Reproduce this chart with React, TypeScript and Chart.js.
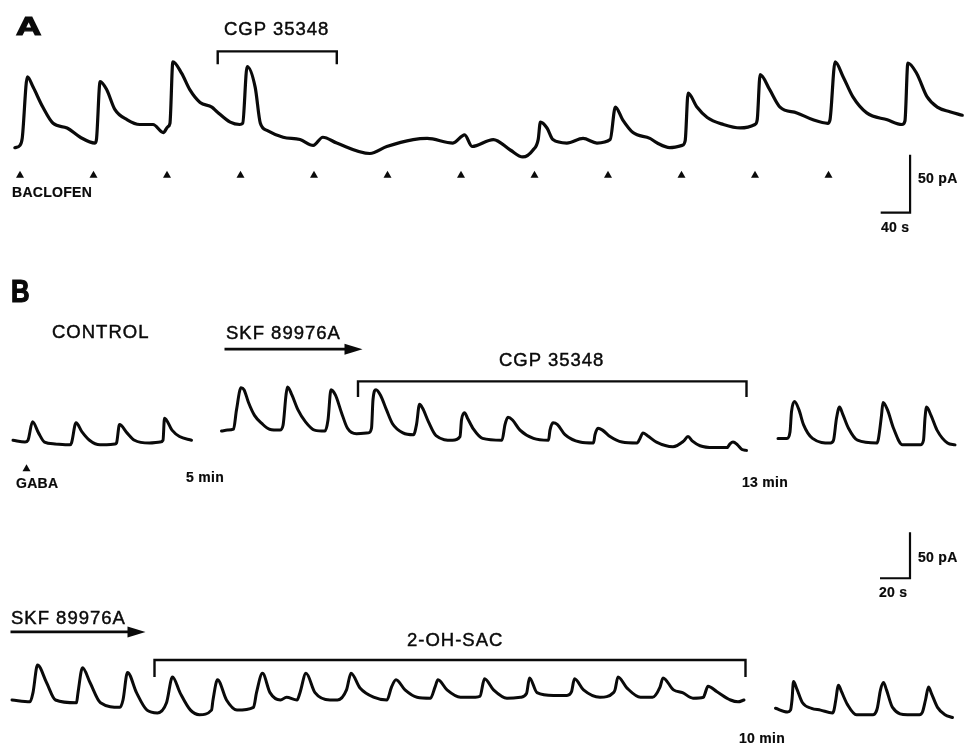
import React, { useEffect, useRef } from "react";
import { Chart, registerables } from "chart.js";

Chart.register(...registerables);

// ---------- DATA (time in s, current in pA) ----------
// Panel A: baclofen-evoked currents, CGP 35348 washed in and out
const traceA: [number, number][] = [
  [-7, 2], [0, 4], [3, 10], [10, 63], [18, 54], [31, 37], [45, 23], [64, 19], [82, 11], [102, 6],
  [104, 9], [109, 59], [118, 52], [129, 35], [146, 26], [163, 22], [181, 22], [195, 15], [201, 20],
  [204, 23], [208, 76], [220, 66], [231, 52], [245, 41], [261, 37], [268, 33], [286, 24], [299, 22],
  [303, 23], [309, 72], [320, 54], [327, 23], [336, 17], [358, 11], [381, 9], [399, 4], [412, 11],
  [431, 6], [476, -3], [499, 3], [535, 9], [554, 10], [589, 6], [605, 13], [615, 3], [644, 9],
  [667, 0], [684, -6], [698, 0], [705, 9], [708, 24], [717, 19], [725, 9], [744, 6], [766, 10],
  [785, 6], [803, 9], [810, 37], [820, 26], [834, 15], [857, 10], [867, 6], [884, 2], [901, 4],
  [905, 8], [909, 49], [921, 37], [935, 28], [957, 22], [980, 19], [1000, 22], [1003, 26],
  [1007, 65], [1020, 52], [1034, 37], [1057, 32], [1079, 26], [1099, 23], [1102, 26], [1109, 76],
  [1120, 63], [1133, 46], [1152, 32], [1180, 26], [1200, 22], [1204, 25], [1208, 75], [1220, 66],
  [1234, 46], [1248, 37], [1265, 33], [1282, 30],
];
const baclofenTimes = [0, 100, 200, 300, 400, 500, 600, 700, 800, 900, 1000, 1100];
const baclofenMarkLevel = -21;
const cgpSpanA = [269, 431];
const cgpLevelsA = [85, 74]; // bar, tick end
const scaleBarA = { time: [1171, 1211], current: [-54, -4] };

// Panel B, row 1: GABA responses, control / SKF 89976A + CGP 35348 / recovery
const controlB1: [number, number][] = [
  [0, 3], [8, 1], [10, 3], [13, 23], [17, 11], [21, 1], [28, -1], [38, -2], [39, 0], [42, 22],
  [46, 12], [51, 3], [58, -2], [68, -1], [69, 0], [71, 20], [76, 11], [81, 3], [91, 0], [98, 1],
  [100, 3], [101, 27], [106, 14], [111, 7], [119, 3],
];
const skfCgpB1: [number, number][] = [
  [139, 13], [143, 14], [147, 15], [149, 36], [152, 60], [154, 58], [157, 44], [161, 30], [166, 21],
  [171, 15], [178, 14], [180, 19], [182, 52], [183, 61], [186, 52], [190, 36], [195, 23], [201, 14],
  [208, 13], [210, 25], [212, 58], [215, 52], [219, 33], [223, 16], [229, 10], [237, 11], [239, 16],
  [240, 47], [242, 58], [245, 52], [249, 36], [253, 21], [260, 11], [267, 9], [269, 20], [271, 42],
  [273, 38], [277, 23], [282, 8], [293, 3], [298, 7], [299, 25], [301, 33], [303, 27], [307, 15],
  [313, 5], [326, 3], [328, 20], [330, 28], [333, 25], [338, 14], [347, 5], [357, 3], [358, 14],
  [360, 22], [363, 20], [368, 9], [378, 1], [387, 0], [388, 9], [390, 16], [393, 14], [398, 7],
  [406, 1], [416, 0], [418, 5], [420, 11], [423, 8], [429, 1], [440, -4], [447, 2], [450, 7],
  [453, 2], [458, -3], [467, -5], [476, -5], [478, -1], [480, 1], [483, -2], [486, -7], [489, -8],
];
const recoveryB1: [number, number][] = [
  [510, 5], [516, 5], [518, 12], [519, 34], [521, 45], [524, 36], [527, 20], [533, 5], [545, 0],
  [547, 3], [549, 27], [551, 39], [553, 32], [557, 16], [563, 3], [576, 0], [577, 5], [579, 30],
  [580, 44], [583, 36], [587, 16], [593, -2], [605, -2], [607, 3], [608, 27], [609, 39], [612, 30],
  [616, 14], [623, 0], [628, -2],
];
const gabaTimes = [9];
const gabaMarkLevel = -27;
const skfSpanB1 = [141, 233];
const skfLevelB1 = 102;
const cgpSpanB1 = [230, 489];
const cgpLevelsB1 = [67, 50];
const scaleBarB = { time: [578, 598], current: [-147, -97] };

// Panel B, row 2: SKF 89976A + 2-OH-saclofen / recovery
const skfSacB2: [number, number][] = [
  [0, 0], [12, -2], [14, 8], [17, 38], [23, 19], [29, 0], [43, -3], [44, 8], [47, 35], [52, 19],
  [59, -3], [72, -8], [74, 0], [77, 30], [83, 8], [90, -11], [97, -14], [103, -3], [107, 25],
  [112, 8], [119, -11], [125, -16], [133, -11], [134, 0], [137, 22], [143, 0], [150, -11],
  [161, -8], [163, 8], [167, 29], [172, 8], [179, 0], [183, 3], [190, 0], [192, 8], [196, 29],
  [202, 8], [212, 0], [217, 0], [223, 11], [226, 29], [232, 13], [241, 3], [250, 0], [253, 14],
  [256, 22], [262, 11], [270, 3], [279, 2], [282, 14], [284, 22], [290, 11], [299, 3], [309, 3],
  [312, 4], [315, 23], [321, 11], [330, 2], [339, 3], [343, 7], [345, 24], [350, 8], [361, 5],
  [370, 5], [373, 9], [375, 23], [381, 11], [392, 3], [401, 8], [402, 11], [404, 25], [410, 13],
  [419, 3], [427, 3], [432, 14], [434, 24], [441, 11], [447, 8], [454, 2], [461, 3], [462, 7],
  [464, 15], [470, 9], [479, 0], [484, -2], [488, 0],
];
const recoveryB2: [number, number][] = [
  [509, -9], [517, -13], [519, -11], [520, 0], [521, 20], [523, 13], [527, -3], [533, -9],
  [539, -11], [547, -14], [548, -11], [549, -2], [551, 16], [553, 9], [557, -5], [563, -16],
  [574, -16], [576, -13], [577, -8], [579, 11], [581, 19], [583, 11], [587, -8], [597, -16],
  [605, -16], [607, -13], [609, 0], [611, 14], [613, 7], [617, -8], [622, -16], [627, -19],
];
const skfSpanB2 = [-1, 89];
const skfLevelB2 = 74;
const sacSpanB2 = [95, 489];
const sacLevelsB2 = [43.5, 25];

// ---------- LAYOUT ----------
const W = 973;
const H = 749;
const INK = "#0a0a0a";
const FONT = '"Liberation Sans", Arial, Helvetica, sans-serif';

// where time 0 / current 0 sit on the page, and scale factors
const panels = {
  A: { x0: 20, y0: 150, pxPerS: 0.735, pxPerPA: 1.16 },
  B1: { x0: 13, y0: 443, pxPerS: 1.5, pxPerPA: 0.92 },
  B2: { x0: 12, y0: 700, pxPerS: 1.5, pxPerPA: 0.92 },
};

function axesFor(id: string, p: { x0: number; y0: number; pxPerS: number; pxPerPA: number }) {
  return {
    ["x" + id]: {
      type: "linear",
      axis: "x",
      position: "bottom",
      display: false,
      min: -p.x0 / p.pxPerS,
      max: (W - p.x0) / p.pxPerS,
    },
    ["y" + id]: {
      type: "linear",
      axis: "y",
      position: "left",
      display: false,
      min: -(H - p.y0) / p.pxPerPA,
      max: p.y0 / p.pxPerPA,
    },
  };
}

const labels = [
  { text: "A", left: 16, top: 12.5, size: 26, bold: true, sx: 1.35, heavy: true },
  { text: "CGP 35348", left: 224, top: 19.5, size: 18.5 },
  { text: "BACLOFEN", left: 12, top: 185, size: 14, bold: true },
  { text: "50 pA", left: 918, top: 171, size: 14, bold: true },
  { text: "40 s", left: 881, top: 220, size: 14, bold: true },
  { text: "B", left: 11, top: 276, size: 31, bold: true, sx: 0.83, heavy: true },
  { text: "CONTROL", left: 52, top: 322.5, size: 18.5 },
  { text: "SKF 89976A", left: 226, top: 323.5, size: 18.5 },
  { text: "CGP 35348", left: 499, top: 350.5, size: 18.5 },
  { text: "GABA", left: 16, top: 476, size: 14, bold: true },
  { text: "5 min", left: 186, top: 470, size: 14, bold: true },
  { text: "13 min", left: 742, top: 475, size: 14, bold: true },
  { text: "50 pA", left: 918, top: 550, size: 14, bold: true },
  { text: "20 s", left: 879, top: 585, size: 14, bold: true },
  { text: "SKF 89976A", left: 11, top: 608.5, size: 18.5 },
  { text: "2-OH-SAC", left: 407, top: 630.5, size: 18.5 },
  { text: "10 min", left: 739, top: 731, size: 14, bold: true },
];

const toXY = (arr: [number, number][]) => arr.map(([x, y]) => ({ x, y }));

function traceDataset(arr: [number, number][], panel: string, width: number) {
  return {
    data: toXY(arr),
    xAxisID: "x" + panel,
    yAxisID: "y" + panel,
    borderColor: INK,
    borderWidth: width,
    pointRadius: 0,
    fill: false,
    cubicInterpolationMode: "monotone",
    borderJoinStyle: "round",
    borderCapStyle: "round",
  };
}

const annotations = {
  id: "traceAnnotations",
  afterDatasetsDraw(chart: any) {
    const ctx = chart.ctx as CanvasRenderingContext2D;
    const s = chart.scales;
    const px = (ax: string, v: number) => s[ax].getPixelForValue(v);
    ctx.save();
    ctx.strokeStyle = INK;
    ctx.fillStyle = INK;
    ctx.lineCap = "butt";

    const tri = (x: number, y: number, w: number, h: number) => {
      ctx.beginPath();
      ctx.moveTo(x, y - h / 2);
      ctx.lineTo(x + w / 2, y + h / 2);
      ctx.lineTo(x - w / 2, y + h / 2);
      ctx.closePath();
      ctx.fill();
    };
    const bracket = (p: string, span: number[], levels: number[]) => {
      const xa = px("x" + p, span[0]);
      const xb = px("x" + p, span[1]);
      const y = px("y" + p, levels[0]);
      const yt = px("y" + p, levels[1]);
      ctx.lineWidth = 2.4;
      ctx.beginPath();
      ctx.moveTo(xa, yt);
      ctx.lineTo(xa, y);
      ctx.lineTo(xb, y);
      ctx.lineTo(xb, yt);
      ctx.stroke();
    };
    const arrow = (p: string, span: number[], level: number) => {
      const xa = px("x" + p, span[0]);
      const xb = px("x" + p, span[1]);
      const y = px("y" + p, level);
      ctx.lineWidth = 2.8;
      ctx.beginPath();
      ctx.moveTo(xa, y);
      ctx.lineTo(xb - 14, y);
      ctx.stroke();
      ctx.beginPath();
      ctx.moveTo(xb, y);
      ctx.lineTo(xb - 18, y - 5.5);
      ctx.lineTo(xb - 18, y + 5.5);
      ctx.closePath();
      ctx.fill();
    };
    const scaleBar = (p: string, bar: { time: number[]; current: number[] }) => {
      const xa = px("x" + p, bar.time[0]);
      const xb = px("x" + p, bar.time[1]);
      const yb = px("y" + p, bar.current[0]);
      const yt = px("y" + p, bar.current[1]);
      ctx.lineWidth = 2.2;
      ctx.beginPath();
      ctx.moveTo(xb, yt);
      ctx.lineTo(xb, yb);
      ctx.lineTo(xa, yb);
      ctx.stroke();
    };

    baclofenTimes.forEach((t) => tri(px("xA", t), px("yA", baclofenMarkLevel), 8, 7));
    gabaTimes.forEach((t) => tri(px("xB1", t), px("yB1", gabaMarkLevel), 8, 7));
    bracket("A", cgpSpanA, cgpLevelsA);
    bracket("B1", cgpSpanB1, cgpLevelsB1);
    bracket("B2", sacSpanB2, sacLevelsB2);
    arrow("B1", skfSpanB1, skfLevelB1);
    arrow("B2", skfSpanB2, skfLevelB2);
    scaleBar("A", scaleBarA);
    scaleBar("B1", scaleBarB);
    ctx.restore();
  },
};

export default function App() {
  const ref = useRef<HTMLCanvasElement>(null);

  useEffect(() => {
    if (!ref.current) return;
    const chart = new Chart(ref.current, {
      type: "line",
      data: {
        datasets: [
          traceDataset(traceA, "A", 3.2),
          traceDataset(controlB1, "B1", 3),
          traceDataset(skfCgpB1, "B1", 3),
          traceDataset(recoveryB1, "B1", 3),
          traceDataset(skfSacB2, "B2", 3),
          traceDataset(recoveryB2, "B2", 3),
        ] as any,
      },
      options: {
        responsive: false,
        animation: false,
        devicePixelRatio: 1,
        events: [],
        layout: { padding: 0 },
        plugins: {
          legend: { display: false },
          title: { display: false },
          tooltip: { enabled: false },
        },
        scales: {
          ...axesFor("A", panels.A),
          ...axesFor("B1", panels.B1),
          ...axesFor("B2", panels.B2),
        } as any,
      },
      plugins: [annotations],
    });
    return () => chart.destroy();
  }, []);

  return (
    <div
      style={{
        position: "absolute",
        left: 0,
        top: 0,
        width: W,
        height: H,
        background: "#fff",
        overflow: "hidden",
        fontFamily: FONT,
        color: INK,
      }}
    >
      <canvas
        ref={ref}
        width={W}
        height={H}
        style={{ position: "absolute", left: 0, top: 0, width: W, height: H }}
      />
      {labels.map((l, i) => (
        <div
          key={i}
          style={{
            position: "absolute",
            left: l.left,
            top: l.top,
            fontSize: l.size,
            fontWeight: l.bold ? 700 : 400,
            lineHeight: 1,
            whiteSpace: "nowrap",
            letterSpacing: l.size > 16 && !l.bold ? 1 : 0.3,
            WebkitTextStroke: (l as any).heavy
              ? "1.2px " + INK
              : l.bold
              ? "0.2px " + INK
              : "0.45px " + INK,
            transform: l.sx ? `scaleX(${l.sx})` : undefined,
            transformOrigin: "left top",
          }}
        >
          {l.text}
        </div>
      ))}
    </div>
  );
}
